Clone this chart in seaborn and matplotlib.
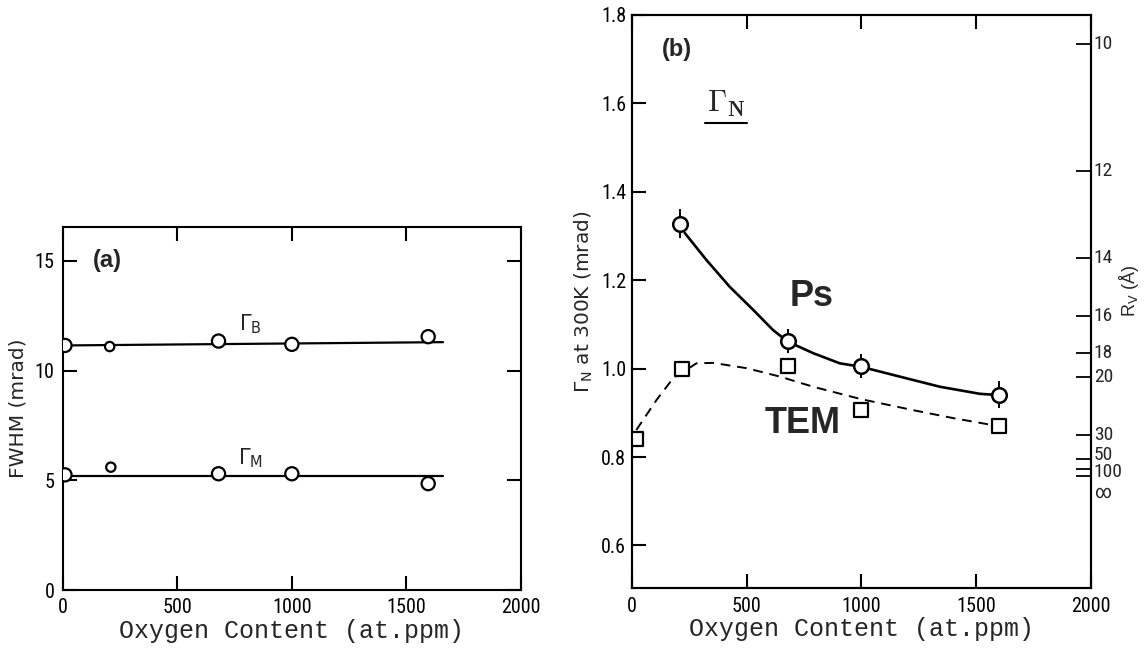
import numpy as np
import pandas as pd
import matplotlib
matplotlib.use("Agg")
import matplotlib.pyplot as plt
from matplotlib import font_manager
from matplotlib.lines import Line2D
import seaborn as sns

# ---------------- data: panel (a) ----------------
a_b_oxygen = [10, 205, 680, 1000, 1595]
a_b_fwhm = [11.15, 11.10, 11.35, 11.20, 11.55]
a_m_oxygen = [10, 210, 680, 1000, 1595]
a_m_fwhm = [5.25, 5.60, 5.30, 5.30, 4.85]
a_b_line_x = [10, 1660]
a_b_line_y = [11.15, 11.30]
a_m_line_x = [10, 1660]
a_m_line_y = [5.20, 5.20]

# ---------------- data: panel (b) ----------------
ps_oxygen = [210, 680, 1000, 1600]
ps_gamma = [1.328, 1.062, 1.005, 0.941]
ps_err = [0.032, 0.027, 0.027, 0.030]
tem_oxygen = [20, 220, 680, 1000, 1600]
tem_gamma = [0.841, 0.999, 1.005, 0.906, 0.871]
ps_curve_x = [231, 325, 427, 529, 616, 680, 790, 906, 1000, 1197, 1342, 1516, 1600]
ps_curve_y = [1.307, 1.246, 1.185, 1.133, 1.087, 1.061, 1.035, 1.012, 1.004, 0.978, 0.959, 0.943, 0.940]
tem_curve_x = [20, 108, 180, 282, 354, 500, 645, 790, 998, 1226, 1400, 1574]
tem_curve_y = [0.861, 0.929, 0.978, 1.012, 1.013, 1.001, 0.982, 0.959, 0.931, 0.906, 0.888, 0.872]
rv_labels = ["10", "12", "14", "16", "18", "20", "30", "50", "100", "∞"]
rv_gamma = [1.735, 1.447, 1.251, 1.120, 1.036, 0.982, 0.850, 0.795, 0.772, 0.757]

x_ticks = [0, 500, 1000, 1500, 2000]
a_y_ticks = [0, 5, 10, 15]
b_y_ticks = [0.6, 0.8, 1.0, 1.2, 1.4, 1.6, 1.8]

# ---------------- style ----------------
sns.set_theme(style="ticks")
names = {f.name for f in font_manager.fontManager.ttflist}
tick_font = "Liberation Sans"
for cand in ["Liberation Sans Narrow", "DejaVu Sans Condensed", "Roboto Condensed", "Liberation Sans"]:
    if cand in names:
        tick_font = cand
        break
plt.rcParams["font.family"] = ["Liberation Sans", "DejaVu Sans"]
plt.rcParams["axes.linewidth"] = 1.5
plt.rcParams["axes.edgecolor"] = "black"

fig = plt.figure(figsize=(11.47, 6.48), dpi=100)
W, H = 1147.0, 648.0
axa = fig.add_axes([62.7 / W, (H - 590) / H, (521 - 62.7) / W, (590 - 227) / H])
axb = fig.add_axes([631.7 / W, (H - 588.3) / H, (1091 - 631.7) / W, (588.3 - 15) / H])

mono = "Liberation Mono"
TICK_FS = 14.5

# ---------------- panel (a) ----------------
sns.lineplot(x=a_b_line_x, y=a_b_line_y, ax=axa, color="black", linewidth=1.6, sort=False, zorder=2)
sns.lineplot(x=a_m_line_x, y=a_m_line_y, ax=axa, color="black", linewidth=1.6, sort=False, zorder=2)
a_sizes = [90, 45, 90, 90, 90]
axa.scatter(a_b_oxygen, a_b_fwhm, s=a_sizes, facecolor="white", edgecolor="black", linewidth=1.6, zorder=3)
axa.scatter(a_m_oxygen, a_m_fwhm, s=a_sizes, facecolor="white", edgecolor="black", linewidth=1.6, zorder=3)

axa.set_xlim(0, 2000)
axa.set_ylim(0, 16.55)
axa.set_xticks(x_ticks)
axa.set_yticks(a_y_ticks)
axa.set_xticklabels([str(v) for v in x_ticks], fontfamily=tick_font, fontsize=TICK_FS)
axa.set_yticklabels([str(v) for v in a_y_ticks], fontfamily=tick_font, fontsize=TICK_FS)
axa.tick_params(axis="both", direction="in", length=10, width=1.5, top=True, right=True, colors="black")
axa.tick_params(axis="x", pad=6)
axa.tick_params(axis="y", pad=6)
axa.set_xlabel("Oxygen Content (at.ppm)", fontfamily=mono, fontsize=18, labelpad=1)
axa.set_ylabel("FWHM (mrad)", fontsize=14.5, fontfamily="DejaVu Sans", labelpad=5)
axa.text(193, 15.0, "(a)", fontsize=17, fontweight="bold", ha="center", va="center")
axa.text(818, 12.1, r"$\Gamma_{\rm B}$", fontsize=15, ha="center", va="center")
axa.text(818, 6.0, r"$\Gamma_{\rm M}$", fontsize=15, ha="center", va="center")

# ---------------- panel (b) ----------------
sns.lineplot(x=ps_curve_x, y=ps_curve_y, ax=axb, color="black", linewidth=1.9, sort=False, zorder=2)
sns.lineplot(x=tem_curve_x, y=tem_curve_y, ax=axb, color="black", linewidth=1.4, sort=False, zorder=2)
axb.lines[-1].set_dashes((5, 3.5))
axb.errorbar(ps_oxygen, ps_gamma, yerr=ps_err, fmt="none", ecolor="black", elinewidth=1.4, capsize=0, zorder=2.5)
sns.scatterplot(x=ps_oxygen, y=ps_gamma, ax=axb, s=110, marker="o", facecolor="white", edgecolor="black",
                linewidth=1.8, zorder=3)
sns.scatterplot(x=tem_oxygen, y=tem_gamma, ax=axb, s=95, marker="s", facecolor="white", edgecolor="black",
                linewidth=1.6, zorder=3)

axb.set_xlim(0, 2000)
axb.set_ylim(0.503, 1.8)
axb.set_xticks(x_ticks)
axb.set_yticks(b_y_ticks)
axb.set_xticklabels([str(v) for v in x_ticks], fontfamily=tick_font, fontsize=TICK_FS)
axb.set_yticklabels([f"{v:.1f}" for v in b_y_ticks], fontfamily=tick_font, fontsize=TICK_FS)
axb.tick_params(axis="both", direction="in", length=10, width=1.5, top=True, right=False, colors="black")
axb.tick_params(axis="x", pad=6)
axb.tick_params(axis="y", pad=4)
axb.set_xlabel("Oxygen Content (at.ppm)", fontfamily=mono, fontsize=18, labelpad=1)
axb.set_ylabel(r"$\Gamma_{\rm N}$ at 300K (mrad)", fontsize=14.5, fontfamily="DejaVu Sans", labelpad=4)

axb.text(197, 1.723, "(b)", fontsize=17, fontweight="bold", ha="center", va="center")
gn = axb.text(411, 1.60, r"$\mathit{\Gamma}_{\mathbf{N}}$", fontsize=22, ha="center", va="center",
              math_fontfamily="cm")
axb.text(785, 1.164, "Ps", fontsize=26, fontweight="bold", ha="center", va="center")
axb.text(746, 0.875, "TEM", fontsize=26, fontweight="bold", ha="center", va="center")

# right-hand R_V scale
ax2 = axb.twinx()
ax2.set_ylim(axb.get_ylim())
ax2.set_yticks(rv_gamma)
ax2.set_yticklabels([""] * len(rv_gamma))
ax2.tick_params(axis="y", direction="in", length=11, width=1.3, colors="black")
ytrans = ax2.get_yaxis_transform()
label_shift = {"50": 3, "100": -2, "∞": -12}
for lab, g in zip(rv_labels, rv_gamma):
    ax2.annotate(lab, xy=(1.0, g), xycoords=ytrans, xytext=(2, label_shift.get(lab, 0)),
                 textcoords="offset points", ha="left", va="center", fontsize=14, fontfamily=tick_font)
ax2.annotate(r"R$_{\rm V}$ (Å)", xy=(1.0, 1.175), xycoords=ytrans, xytext=(27, 0),
             textcoords="offset points", rotation=90, ha="center", va="center", fontsize=13)

for ax in (axa, axb, ax2):
    for sp in ax.spines.values():
        sp.set_color("black")
        sp.set_linewidth(1.5)

# underline Γ_N from its own extent
fig.canvas.draw()
bb = gn.get_window_extent()
fig.add_artist(Line2D([bb.x0 - 2, bb.x1 + 2], [bb.y0 - 4, bb.y0 - 4], transform=None,
                      color="black", linewidth=1.5))

fig.savefig("out.png", dpi=100, facecolor="white")
